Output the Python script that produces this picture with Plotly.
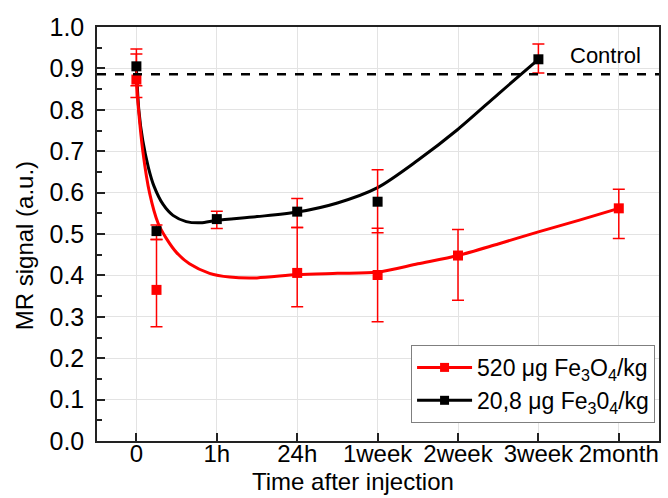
import plotly.graph_objects as go

# ---- data ----
tick_pos = [0, 1, 2, 3, 4, 5, 6]
tick_labels = ["0", "1h", "24h", "1week", "2week", "3week", "2month"]

red_x = [0, 0.25, 2, 3, 4, 6]
red_y = [0.873, 0.365, 0.406, 0.401, 0.448, 0.562]
red_err_plus = [0.062, 0.122, 0.110, 0.113, 0.063, 0.046]
red_err_minus = [0.043, 0.089, 0.082, 0.113, 0.108, 0.073]

black_x = [0, 0.25, 1, 2, 3, 5]
black_y = [0.905, 0.507, 0.536, 0.554, 0.578, 0.922]
black_err_plus = [0.042, 0.015, 0.019, 0.032, 0.077, 0.037]
black_err_minus = [0.047, 0.020, 0.023, 0.038, 0.075, 0.033]

red_fit_x = [0, 0.02, 0.08, 0.165, 0.27, 0.37, 0.5, 0.66, 0.91, 1.16, 1.5, 2.0, 2.5, 3.0, 3.5, 4.0, 4.5, 5.0, 5.5, 6.0]
red_fit_y = [0.873, 0.816, 0.70, 0.598, 0.526, 0.49, 0.455, 0.428, 0.405, 0.396, 0.394, 0.402, 0.405, 0.408, 0.428, 0.448, 0.476, 0.505, 0.533, 0.562]

black_fit_x = [0, 0.03, 0.08, 0.15, 0.22, 0.33, 0.455, 0.62, 0.8, 1.0, 1.5, 2.0, 2.5, 3.0, 3.5, 4.0, 4.5, 5.0]
black_fit_y = [0.90, 0.80, 0.725, 0.66, 0.615, 0.572, 0.545, 0.530, 0.527, 0.533, 0.542, 0.553, 0.575, 0.612, 0.678, 0.753, 0.838, 0.922]

control_level = 0.886
legend_names = ["520 \u03bcg Fe<sub>3</sub>O<sub>4</sub>/kg", "20,8 \u03bcg Fe<sub>3</sub>0<sub>4</sub>/kg"]

RED = "#ff0000"
BLACK = "#000000"
FONT = "Liberation Sans, Arial, sans-serif"

fig = go.Figure()

fig.add_trace(go.Scatter(x=black_fit_x, y=black_fit_y, mode="lines",
                         line=dict(color=BLACK, width=3, shape="spline", smoothing=0.8),
                         showlegend=False, hoverinfo="skip"))
fig.add_trace(go.Scatter(x=red_fit_x, y=red_fit_y, mode="lines",
                         line=dict(color=RED, width=3, shape="spline", smoothing=0.8),
                         showlegend=False, hoverinfo="skip"))

fig.add_trace(go.Scatter(x=red_x, y=red_y, mode="markers",
                         marker=dict(symbol="square", size=10, color=RED),
                         error_y=dict(type="data", symmetric=False, array=red_err_plus,
                                      arrayminus=red_err_minus, color=RED, thickness=1.5, width=6),
                         showlegend=False))
fig.add_trace(go.Scatter(x=black_x, y=black_y, mode="markers",
                         marker=dict(symbol="square", size=10, color=BLACK),
                         error_y=dict(type="data", symmetric=False, array=black_err_plus,
                                      arrayminus=black_err_minus, color=RED, thickness=1.5, width=6),
                         showlegend=False))

# legend entries
fig.add_trace(go.Scatter(x=[None], y=[None], mode="lines+markers", name=legend_names[0],
                         line=dict(color=RED, width=3),
                         marker=dict(symbol="square", size=9, color=RED)))
fig.add_trace(go.Scatter(x=[None], y=[None], mode="lines+markers", name=legend_names[1],
                         line=dict(color=BLACK, width=3),
                         marker=dict(symbol="square", size=9, color=BLACK)))

fig.add_shape(type="line", xref="paper", x0=0, x1=1, yref="y", y0=control_level, y1=control_level,
              line=dict(color=BLACK, width=2.5, dash="dash"))

fig.add_annotation(text="Control", xref="paper", x=0.972, xanchor="right",
                   yref="y", y=0.93, yanchor="middle", showarrow=False,
                   font=dict(family=FONT, size=22, color=BLACK))

# axis titles
fig.add_annotation(text="MR signal (a.u.)", xref="paper", x=(24 - 97) / 564, xanchor="center",
                   yref="paper", y=(440.7 - 246) / 413.4, yanchor="middle", textangle=-90,
                   showarrow=False, font=dict(family=FONT, size=24, color=BLACK))
fig.add_annotation(text="Time after injection", xref="paper", x=(354 - 97) / 564, xanchor="center",
                   yref="paper", y=(440.7 - 497) / 413.4, yanchor="bottom",
                   showarrow=False, font=dict(family=FONT, size=24, color=BLACK))

fig.update_layout(
    width=668, height=498,
    margin=dict(l=97, r=7, t=27, b=57),
    paper_bgcolor="white", plot_bgcolor="white",
    font=dict(family=FONT, size=24, color=BLACK),
    showlegend=True,
    legend=dict(x=0.993, xanchor="right", y=0.232, yanchor="top",
                bgcolor="white", bordercolor="#7f7f7f", borderwidth=1,
                font=dict(family=FONT, size=23, color=BLACK),
                itemwidth=55, tracegroupgap=0),
)

fig.update_xaxes(range=[-0.49, 6.5], tickmode="array", tickvals=tick_pos, ticktext=tick_labels,
                 showgrid=True, gridcolor="#e3e3e3", gridwidth=1,
                 showline=True, linecolor="#222", linewidth=1.5, mirror=True,
                 ticks="inside", ticklen=8, tickcolor="#222", tickwidth=1.5,
                 ticklabelstandoff=-10, zeroline=False,
                 tickfont=dict(family=FONT, size=24, color=BLACK))
fig.update_yaxes(range=[0, 1.0], tickmode="array", tickvals=[i / 10 for i in range(11)],
                 ticktext=["%.1f" % (i / 10) for i in range(11)],
                 showgrid=True, gridcolor="#e3e3e3", gridwidth=1,
                 showline=True, linecolor="#222", linewidth=1.5, mirror=True,
                 ticks="inside", ticklen=8, tickcolor="#222", tickwidth=1.5,
                 minor=dict(tickvals=[i / 20 for i in range(1, 20, 2)], ticks="inside",
                            ticklen=5, tickcolor="#222", showgrid=False),
                 ticklabelstandoff=6, zeroline=False,
                 tickfont=dict(family=FONT, size=25, color=BLACK))

fig.write_html("out.html")
